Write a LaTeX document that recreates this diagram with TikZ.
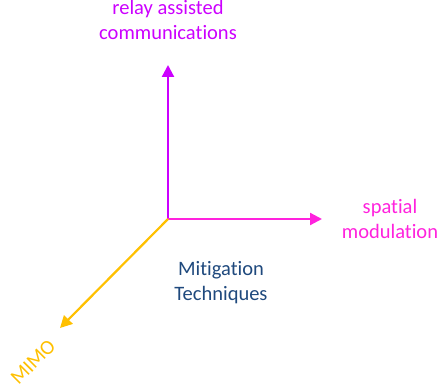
\documentclass[tikz,border=0pt]{standalone}
\usepackage{fontspec}
\setmainfont{Carlito}[Ligatures=NoCommon]
\usepackage{xcolor}
\definecolor{relaycolor}{HTML}{CC00FF}
\definecolor{spatialcolor}{HTML}{FF22DD}
\definecolor{mimocolor}{HTML}{FFC000}
\definecolor{mitigationcolor}{HTML}{1F497D}
\usetikzlibrary{
  arrows.meta,
}
\tikzstyle{axisarrow}=[line width=2.2pt, -{Triangle[length=12pt,width=12pt]}]
\tikzstyle{axislabel}=[align=center, inner sep=0pt, font=\fontsize{20.5}{25}\selectfont]
\begin{document}
\begin{tikzpicture}[x=1pt, y=1pt]
	\useasboundingbox (0,0) rectangle (441,390);
	\coordinate (origin) at (168,171);
	\path (origin) + (0,154) coordinate (relaytip);
	\path (origin) + (154,0) coordinate (spatialtip);
	\path (origin) + (-108,-109) coordinate (mimotip);
	\path (origin) + (0,199) node (relay) [axislabel, text=relaycolor] {relay assisted\\communications};
	\path (origin) + (222,0) node (spatial) [axislabel, text=spatialcolor] {spatial\\modulation};
	\path (origin) + (53,-64) node (mitigation) [axislabel, text=mitigationcolor] {Mitigation\\Techniques};
	\path (origin) + (-135,-143) node (mimo) [axislabel, text=mimocolor, rotate=45] {MIMO};
	\draw [axisarrow, relaycolor] (origin) -- (relaytip);
	\draw [axisarrow, spatialcolor] (origin) -- (spatialtip);
	\draw [axisarrow, mimocolor] (origin) -- (mimotip);
\end{tikzpicture}
\end{document}
